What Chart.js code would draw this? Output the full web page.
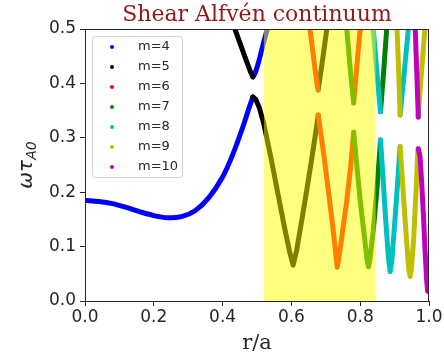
<!DOCTYPE html>
<html>
<head>
<meta charset="utf-8">
<script src="https://cdn.jsdelivr.net/npm/chart.js@4/dist/chart.umd.min.js"></script>
<style>
  html, body { margin: 0; padding: 0; background: #fff; }
  canvas { display: block; }
</style>
</head>
<body>
<canvas id="continuum" width="444" height="358"></canvas>
<script>
// Continuum branches, one x/y pair per poloidal mode.
// null splits a mode into its separate (lower / upper) branches.
const modeNumbers = [4, 5, 6, 7, 8, 9, 10];
const modeColors = ["#0000ff", "#000000", "#ff0000", "#008000", "#00bfbf", "#bfbf00", "#bf00bf"];

const m4X = [0, 0.04, 0.08, 0.12, 0.16, 0.2, 0.24, 0.28, 0.32, 0.36, 0.4, 0.43, 0.46, 0.478, 0.488, null,
             0.488, 0.495, 0.505, 0.517, 0.53, 0.537];
const m4Y = [0.185, 0.183, 0.179, 0.172, 0.164, 0.157, 0.153, 0.155, 0.166, 0.19, 0.228, 0.27, 0.322, 0.357, 0.375, null,
             0.412, 0.42, 0.44, 0.47, 0.5, 0.515];

const m5X = [0.43, 0.45, 0.47, 0.482, 0.488, null,
             0.488, 0.497, 0.507, 0.52, 0.54, 0.56, 0.58, 0.595, 0.605, 0.615, 0.63, 0.645, 0.66, 0.672, 0.678, null,
             0.678, 0.69, 0.703, 0.707];
const m5Y = [0.51, 0.475, 0.44, 0.42, 0.412, null,
             0.375, 0.37, 0.355, 0.325, 0.265, 0.2, 0.135, 0.09, 0.066, 0.092, 0.148, 0.205, 0.265, 0.315, 0.342, null,
             0.388, 0.44, 0.5, 0.515];

const m6X = [0.651, 0.654, 0.668, 0.675, 0.678, null,
             0.678, 0.684, 0.695, 0.71, 0.722, 0.73, 0.733, 0.737, 0.745, 0.76, 0.772, 0.781, null,
             0.781, 0.79, 0.8, 0.802];
const m6Y = [0.515, 0.5, 0.43, 0.397, 0.388, null,
             0.342, 0.315, 0.265, 0.19, 0.128, 0.08, 0.062, 0.075, 0.11, 0.18, 0.245, 0.31, null,
             0.364, 0.43, 0.5, 0.515];

const m7X = [0.758, 0.761, 0.772, 0.781, null,
             0.781, 0.79, 0.8, 0.812, 0.82, 0.824, 0.828, 0.838, 0.848, 0.855, 0.859, null,
             0.859, 0.868, 0.877, 0.879];
const m7Y = [0.515, 0.5, 0.42, 0.364, null,
             0.31, 0.25, 0.185, 0.12, 0.075, 0.063, 0.075, 0.13, 0.2, 0.26, 0.296, null,
             0.348, 0.42, 0.5, 0.515];

const m8X = [0.835, 0.838, 0.85, 0.859, null,
             0.859, 0.866, 0.874, 0.882, 0.887, 0.892, 0.9, 0.908, 0.916, null,
             0.916, 0.928, 0.94, 0.942];
const m8Y = [0.515, 0.5, 0.41, 0.348, null,
             0.296, 0.23, 0.15, 0.08, 0.054, 0.075, 0.14, 0.21, 0.284, null,
             0.342, 0.42, 0.5, 0.515];

const m9X = [0.905, 0.907, 0.912, 0.916, null,
             0.916, 0.925, 0.935, 0.941, 0.945, 0.949, 0.956, 0.963, 0.968, null,
             0.968, 0.978, 0.988, 0.99];
const m9Y = [0.515, 0.5, 0.42, 0.342, null,
             0.284, 0.2, 0.11, 0.06, 0.045, 0.06, 0.12, 0.21, 0.28, null,
             0.338, 0.42, 0.5, 0.515];

const m10X = [0.958, 0.96, 0.965, 0.969, null,
              0.969, 0.974, 0.979, 0.984, 0.988, 0.993, 0.996];
const m10Y = [0.515, 0.5, 0.41, 0.338, null,
              0.28, 0.265, 0.215, 0.155, 0.1, 0.04, 0.018];

const modeX = [m4X, m5X, m6X, m7X, m8X, m9X, m10X];
const modeY = [m4Y, m5Y, m6Y, m7Y, m8Y, m9Y, m10Y];

// shaded radial interval (r/a)
const bandRange = [0.52, 0.845];

const xTicks = [0, 0.2, 0.4, 0.6, 0.8, 1.0];
const yTicks = [0, 0.1, 0.2, 0.3, 0.4, 0.5];

const titleText = "Shear Alfvén continuum";
const xLabel = "r/a";

const axisColor = "#262626";

// Build datasets
const datasets = modeNumbers.map((m, k) => ({
  label: `m=${m}`,
  data: modeX[k].map((x, i) => ({ x: x, y: modeY[k][i] })),
  borderColor: modeColors[k],
  backgroundColor: modeColors[k],
  borderWidth: 5,
  borderCapStyle: "round",
  borderJoinStyle: "round",
  showLine: true,
  spanGaps: false,
  pointRadius: 0,
  pointHoverRadius: 0,
  // the slow m=4 branch is smooth, the V shapes are sharp
  tension: m === 4 ? 0.3 : 0,
  clip: 0,
  order: -m,
}));

// Yellow band on top of the curves (like an axvspan with alpha)
const bandPlugin = {
  id: "band",
  afterDatasetsDraw(chart) {
    const { ctx, chartArea, scales } = chart;
    const x0 = scales.x.getPixelForValue(bandRange[0]);
    const x1 = scales.x.getPixelForValue(bandRange[1]);
    ctx.save();
    ctx.fillStyle = "rgba(255, 255, 0, 0.5)";
    ctx.fillRect(x0, chartArea.top, x1 - x0, chartArea.bottom - chartArea.top);
    ctx.restore();
  },
};

// Frame, legend box, title and axis labels
const decorPlugin = {
  id: "decor",
  afterDraw(chart) {
    const { ctx, chartArea } = chart;
    ctx.save();

    // spines
    ctx.strokeStyle = axisColor;
    ctx.lineWidth = 1;
    ctx.strokeRect(chartArea.left + 0.5, chartArea.top + 0.5,
      chartArea.right - chartArea.left - 1, chartArea.bottom - chartArea.top);

    // legend
    const lx = chartArea.left + 7;
    const ly = chartArea.top + 7;
    const lw = 90;
    const lh = 141;
    ctx.beginPath();
    ctx.roundRect(lx + 0.5, ly + 0.5, lw, lh, 3);
    ctx.fillStyle = "rgba(255, 255, 255, 0.8)";
    ctx.fill();
    ctx.strokeStyle = "#d0d0d0";
    ctx.stroke();
    ctx.font = "13px 'DejaVu Sans'";
    ctx.textBaseline = "middle";
    ctx.textAlign = "left";
    chart.data.datasets.forEach((ds, i) => {
      const cy = ly + 11 + i * 20;
      ctx.beginPath();
      ctx.arc(lx + 20, cy, 2, 0, Math.PI * 2);
      ctx.fillStyle = ds.borderColor;
      ctx.fill();
      ctx.fillStyle = axisColor;
      ctx.fillText(ds.label, lx + 46, cy);
    });

    // title
    const cx = (chartArea.left + chartArea.right) / 2;
    ctx.fillStyle = "#8b1a1a";
    ctx.font = "22px 'DejaVu Serif'";
    ctx.textAlign = "center";
    ctx.textBaseline = "alphabetic";
    ctx.fillText(titleText, cx, 21);

    // x label
    ctx.fillStyle = axisColor;
    ctx.font = "21px 'DejaVu Serif'";
    ctx.fillText(xLabel, cx, 349);

    // y label: omega tau with subscript A0
    ctx.translate(26, (chartArea.top + chartArea.bottom) / 2);
    ctx.rotate(-Math.PI / 2);
    ctx.textAlign = "left";
    ctx.font = "italic 20px 'DejaVu Sans'";
    const w1 = ctx.measureText("ωτ").width;
    ctx.font = "italic 14px 'DejaVu Sans'";
    const w2 = ctx.measureText("A0").width;
    const start = -(w1 + w2) / 2;
    ctx.font = "italic 20px 'DejaVu Sans'";
    ctx.fillText("ωτ", start, 6);
    ctx.font = "italic 14px 'DejaVu Sans'";
    ctx.fillText("A0", start + w1, 10);

    ctx.restore();
  },
};

new Chart(document.getElementById("continuum").getContext("2d"), {
  type: "scatter",
  data: { datasets: datasets },
  options: {
    responsive: false,
    animation: false,
    devicePixelRatio: 1,
    layout: { padding: { top: 29, right: 15, left: 0, bottom: 0 } },
    plugins: {
      legend: { display: false },
      tooltip: { enabled: false },
      title: { display: false },
    },
    scales: {
      x: {
        type: "linear",
        min: 0,
        max: 1,
        afterBuildTicks: (scale) => {
          scale.ticks = xTicks.map((v) => ({ value: v }));
        },
        afterFit: (scale) => {
          scale.height = 57;
        },
        border: { display: true, color: axisColor },
        grid: { drawOnChartArea: false, tickLength: 5, color: axisColor },
        ticks: {
          color: axisColor,
          padding: 1,
          maxRotation: 0,
          font: { family: "DejaVu Sans", size: 17 },
          callback: (v) => Number(v).toFixed(1),
        },
      },
      y: {
        type: "linear",
        min: 0,
        max: 0.5,
        afterBuildTicks: (scale) => {
          scale.ticks = yTicks.map((v) => ({ value: v }));
        },
        afterFit: (scale) => {
          scale.width = 85;
        },
        border: { display: true, color: axisColor },
        grid: { drawOnChartArea: false, tickLength: 5, color: axisColor },
        ticks: {
          color: axisColor,
          padding: 4,
          font: { family: "DejaVu Sans", size: 17 },
          callback: (v) => Number(v).toFixed(1),
        },
      },
    },
  },
  plugins: [bandPlugin, decorPlugin],
});
</script>
</body>
</html>
